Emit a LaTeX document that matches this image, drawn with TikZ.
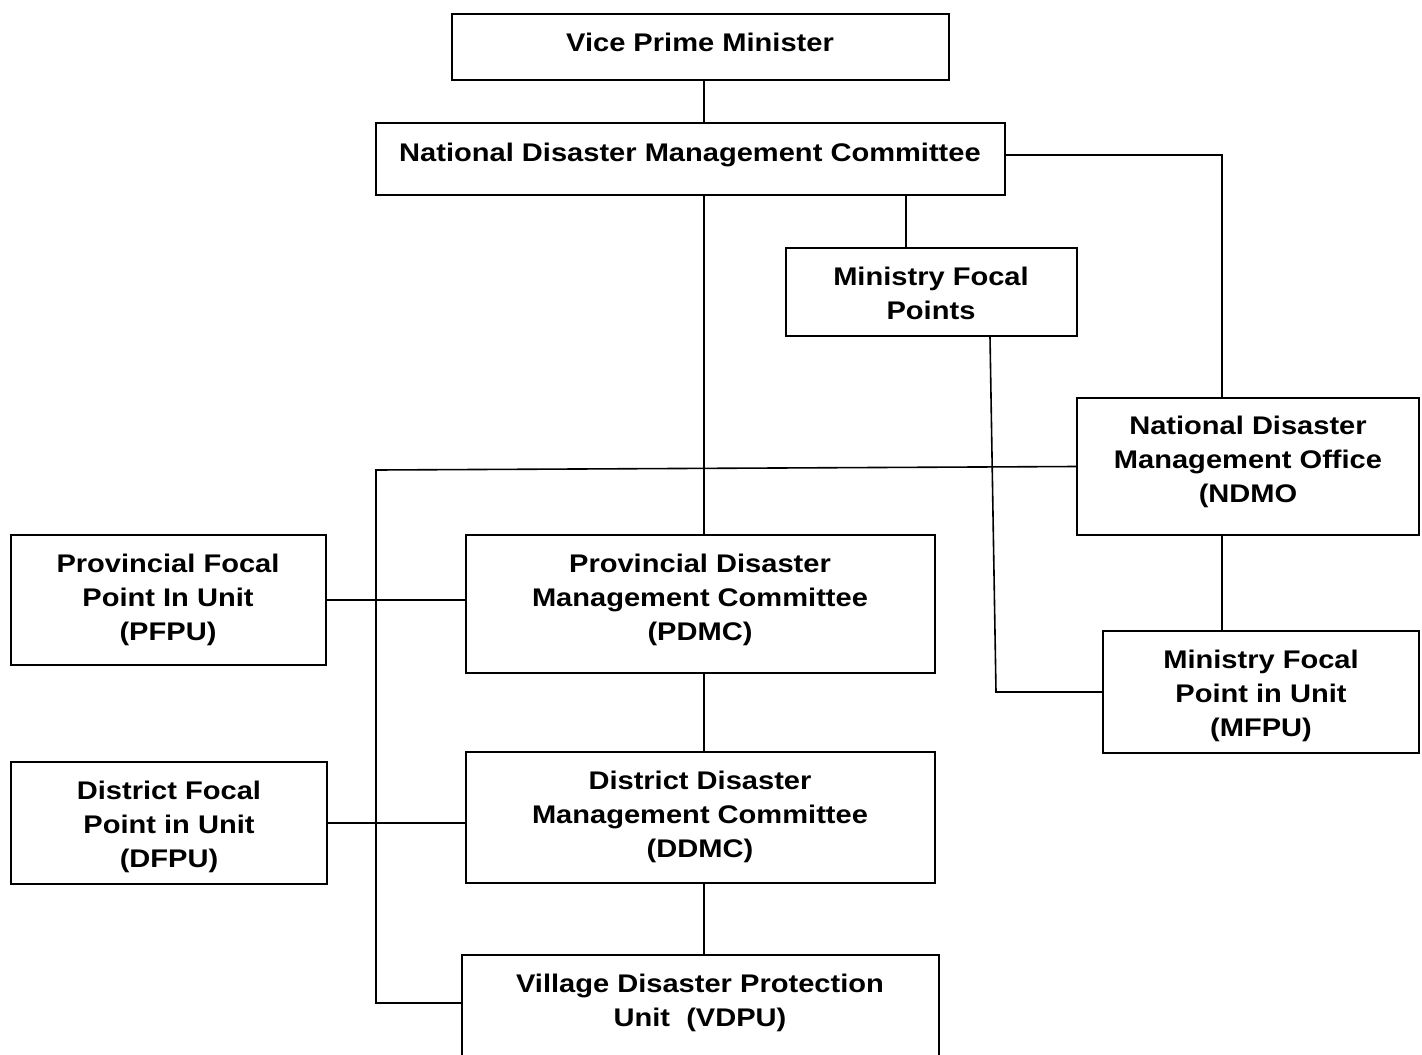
\documentclass[tikz,border=0pt]{standalone}
\usepackage{fontspec}
\setmainfont[FakeStretch=1.14]{Liberation Sans}
\usepackage{tikz}
\usetikzlibrary{calc}

\begin{document}
\begin{tikzpicture}[x=1pt,y=-1pt,line width=1.6pt,
    node font=\fontsize{25.5}{34}\selectfont\bfseries,
    unitbox/.style={draw,rectangle,inner sep=0pt},
    unittext/.style={align=center,inner sep=0pt}]
			\useasboundingbox (0,0) rectangle (1422,1055);
			% boxes
			\node[unitbox,minimum width=497,minimum height=66]  (vpm)  at (700.5,47) {};
			\node[unitbox,minimum width=629,minimum height=72]  (ndmc) at (690.5,159) {};
			\node[unitbox,minimum width=291,minimum height=88]  (mfp)  at (931.5,292) {};
			\node[unitbox,minimum width=342,minimum height=137] (ndmo) at (1248,466.5) {};
			\node[unitbox,minimum width=315,minimum height=130] (pfpu) at (168.5,600) {};
			\node[unitbox,minimum width=469,minimum height=138] (pdmc) at (700.5,604) {};
			\node[unitbox,minimum width=316,minimum height=122] (mfpu) at (1261,692) {};
			\node[unitbox,minimum width=316,minimum height=122] (dfpu) at (169,823) {};
			\node[unitbox,minimum width=469,minimum height=131] (ddmc) at (700.5,817.5) {};
			\node[unitbox,minimum width=477,minimum height=120] (vdpu) at (700.5,1015) {};
			% texts
			\node[unittext] (vpm-t)  at (700,42)   {Vice Prime Minister};
			\node[unittext] (ndmc-t) at (690,155)  {National Disaster Management Committee};
			\node[unittext] (mfp-t)  at (931,293)  {Ministry Focal\\Points};
			\node[unittext] (ndmo-t) at (1248,462) {National Disaster\\Management Office\\(NDMO};
			\node[unittext] (pfpu-t) at (168,600)  {Provincial Focal\\Point In Unit\\(PFPU)};
			\node[unittext] (pdmc-t) at (700,600)  {Provincial Disaster\\Management Committee\\(PDMC)};
			\node[unittext] (mfpu-t) at (1261,696) {Ministry Focal\\Point in Unit\\(MFPU)};
			\node[unittext] (dfpu-t) at (169,827)  {District Focal\\Point in Unit\\(DFPU)};
			\node[unittext] (ddmc-t) at (700,817)  {District Disaster\\Management Committee\\(DDMC)};
			\node[unittext] (vdpu-t) at (700,1003) {Village Disaster Protection\\Unit~~(VDPU)};
			% helper points
			\coordinate (spine)   at (704,0);
			\coordinate (mfpx)    at (906,0);
			\coordinate (ndmox)   at (1222,155);
			\coordinate (mfpdrop) at (990,0);
			\coordinate (mfpturn) at (996,692);
			\coordinate (bustop)  at (376,470);
			\coordinate (busbot)  at (376,1003);
			% connectors
			\draw (vpm.south -| spine) -- (ndmc.north -| spine);
			\draw (ndmc.south -| spine) -- (pdmc.north -| spine);
			\draw (pdmc.south -| spine) -- (ddmc.north -| spine);
			\draw (ddmc.south -| spine) -- (vdpu.north -| spine);
			\draw (ndmc.south -| mfpx) -- (mfp.north -| mfpx);
			\draw (ndmc.east |- ndmox) -- (ndmox) -- (ndmo.north -| ndmox);
			\draw (ndmo.south -| ndmox) -- (mfpu.north -| ndmox);
			\draw (mfp.south -| mfpdrop) -- (mfpturn) -- (mfpu.west);
			\draw (ndmo.west) -- (bustop) -- (busbot) -- (vdpu.west |- busbot);
			\draw (pfpu.east) -- (pdmc.west |- pfpu.east);
			\draw (dfpu.east) -- (ddmc.west |- dfpu.east);
		\end{tikzpicture}
\end{document}
